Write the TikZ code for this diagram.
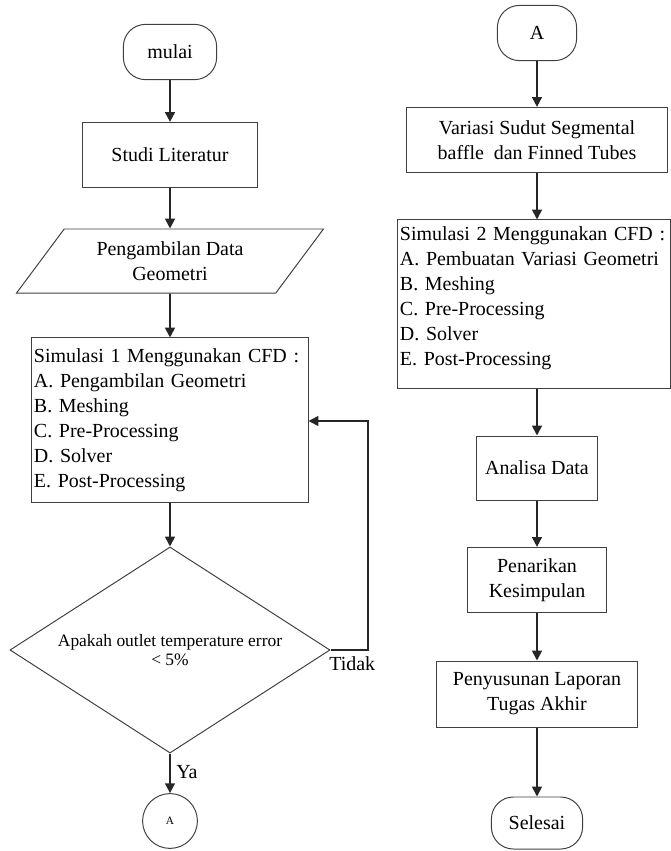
\documentclass[tikz,border=0pt]{standalone}
\usepackage{fontspec}
\setmainfont{Liberation Serif}
\usepackage{tikz}
\usetikzlibrary{arrows.meta,shapes.geometric,positioning}

\begin{document}
\begin{tikzpicture}[
  x=0.025cm,y=-0.025cm,
  font=\fontsize{14.2}{17.8}\selectfont,
  proc/.style={draw=black!75,line width=.7pt,inner sep=2pt,align=center},
  term/.style={proc,rounded corners=.55cm},
  io/.style={draw=black!75,line width=.7pt,trapezium,trapezium left angle=54,
    trapezium right angle=126,trapezium stretches=true,align=center},
  decide/.style={draw=black!75,line width=.7pt,diamond,aspect=1.55,align=center,
    minimum width=8cm,minimum height=5.15cm,inner sep=1pt},
  flow/.style={black!85,line width=1.3pt,-{Triangle[width=7pt,length=7pt]}}
]
\useasboundingbox (0,0) rectangle (671,851);
% left column
\node[term,minimum width=2.33cm,minimum height=1.38cm] (mulai) at (170,52) {mulai};
\node[proc,minimum width=4.35cm,minimum height=1.63cm] (studi) at (170,155) {Studi Literatur};
\node[io,minimum width=7.68cm,minimum height=1.6cm] (data) at (170,261)
  {Pengambilan Data\\Geometri};
\node[proc,minimum width=6.9cm,minimum height=4.1cm,text width=6.8cm,align=left,inner sep=1pt] (sim1) at (170,420)
  {Simulasi 1 Menggunakan CFD :\\A. Pengambilan Geometri\\B. Meshing\\C. Pre-Processing\\D. Solver\\E. Post-Processing};
\node[decide,font=\fontsize{12.4}{13}\selectfont] (cek) at (170,650)
  {Apakah outlet temperature error\\< 5\%};
\node[draw=black!75,line width=.7pt,circle,minimum size=1.37cm,inner sep=0pt,
  font=\fontsize{8}{9}\selectfont] (conA) at (170,821) {A};
\coordinate (turn1) at (368,650);
\coordinate (turn2) at (368,421);
\draw[flow] (mulai) -- (studi);
\draw[flow] (studi) -- (data);
\draw[flow] (data) -- (sim1);
\draw[flow] (sim1) -- (cek);
\draw[flow] (cek.south) -- (conA);
\draw[flow] (cek.east) -- (turn1) -- (turn2) -- (sim1.east |- turn2);
\node[anchor=north west,inner sep=0pt] (tidak) at (329,656) {Tidak};
\node[anchor=west,inner sep=0pt] (ya) at (176,772) {Ya};
% right column
\node[term,minimum width=1.98cm,minimum height=1.38cm] (startA) at (537,33) {A};
\node[proc,minimum width=6.53cm,minimum height=1.63cm] (variasi) at (537,140)
  {Variasi Sudut Segmental\\baffle\ \ dan Finned Tubes};
\node[proc,minimum width=6.8cm,minimum height=4.2cm,text width=6.7cm,align=left,inner sep=1pt] (sim2) at (534,304)
  {Simulasi 2 Menggunakan CFD :\\A. Pembuatan Variasi Geometri\\B. Meshing\\C. Pre-Processing\\D. Solver\\E. Post-Processing\\[-6pt]\mbox{}};
\node[proc,minimum width=3cm,minimum height=1.6cm] (analisa) at (537,468) {Analisa Data};
\node[proc,minimum width=3.48cm,minimum height=1.63cm] (tarik) at (537,580) {Penarikan\\Kesimpulan};
\node[proc,minimum width=5cm,minimum height=1.65cm] (laporan) at (537,694)
  {Penyusunan Laporan\\Tugas Akhir};
\node[term,minimum width=2.28cm,minimum height=1.3cm] (selesai) at (537,823) {Selesai};
\draw[flow] (startA) -- (variasi);
\draw[flow] (variasi) -- (variasi |- sim2.north);
\draw[flow] (analisa |- sim2.south) -- (analisa);
\draw[flow] (analisa) -- (tarik);
\draw[flow] (tarik) -- (laporan);
\draw[flow] (laporan) -- (selesai);
\end{tikzpicture}
\end{document}
